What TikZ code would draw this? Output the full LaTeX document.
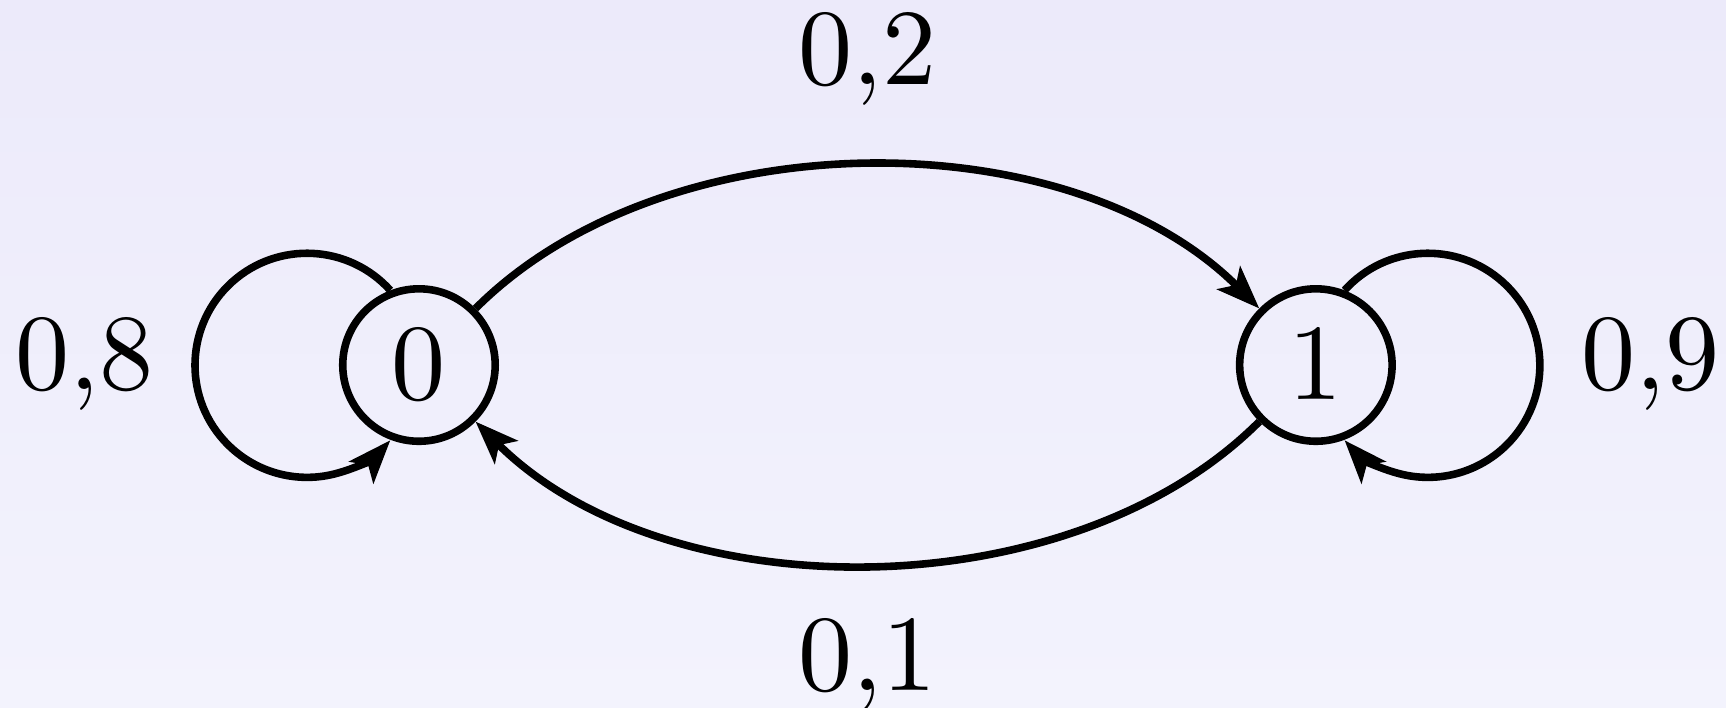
\documentclass[tikz,border=0pt]{standalone}
\usepackage{amsmath}
\usetikzlibrary{arrows.meta,positioning}
\definecolor{bgtop}{RGB}{236,234,250}
\definecolor{bgmid}{RGB}{230,230,250}
\definecolor{bgbot}{RGB}{243,243,253}
\newcommand{\probtxt}[1]{\scalebox{2.14}{$#1$}}

\begin{document}
\begin{tikzpicture}[
  state/.style={draw, circle, line width=1.5pt, minimum size=1.06cm, inner sep=0pt},
  prob/.style={inner sep=0pt, outer sep=0pt},
  arr/.style={-{Stealth[length=0.3cm, width=0.225cm, inset=0.07cm]}, line width=1.5pt}
]
% background
\shade[top color=bgtop, middle color=bgmid, bottom color=bgbot] (-2.913,-2.378) rectangle (9.087,2.538);
\useasboundingbox (-2.913,-2.378) rectangle (9.087,2.538);

\node[state] (n0) {\probtxt{0}};
\node[state, right=5.123cm of n0] (n1) {\probtxt{1}};

\node[prob, left=1.29cm of n0] (p00) {\probtxt{0{,}8}};
\node[prob, right=1.29cm of n1] (p11) {\probtxt{0{,}9}};
\node[prob] (p01) at (3.118,2.12) {\probtxt{0{,}2}};
\node[prob] (p10) at (3.118,-2.093) {\probtxt{0{,}1}};

\draw[arr] (n0) to[out=45, in=135, looseness=0.88] (n1);
\draw[arr] (n1) to[out=-135, in=-45, looseness=0.88] (n0);
\draw[arr] (n0.111) arc[start angle=42, end angle=318, radius=0.779cm];
\draw[arr] (n1.69) arc[start angle=138, end angle=-138, radius=0.779cm];
\end{tikzpicture}
\end{document}
